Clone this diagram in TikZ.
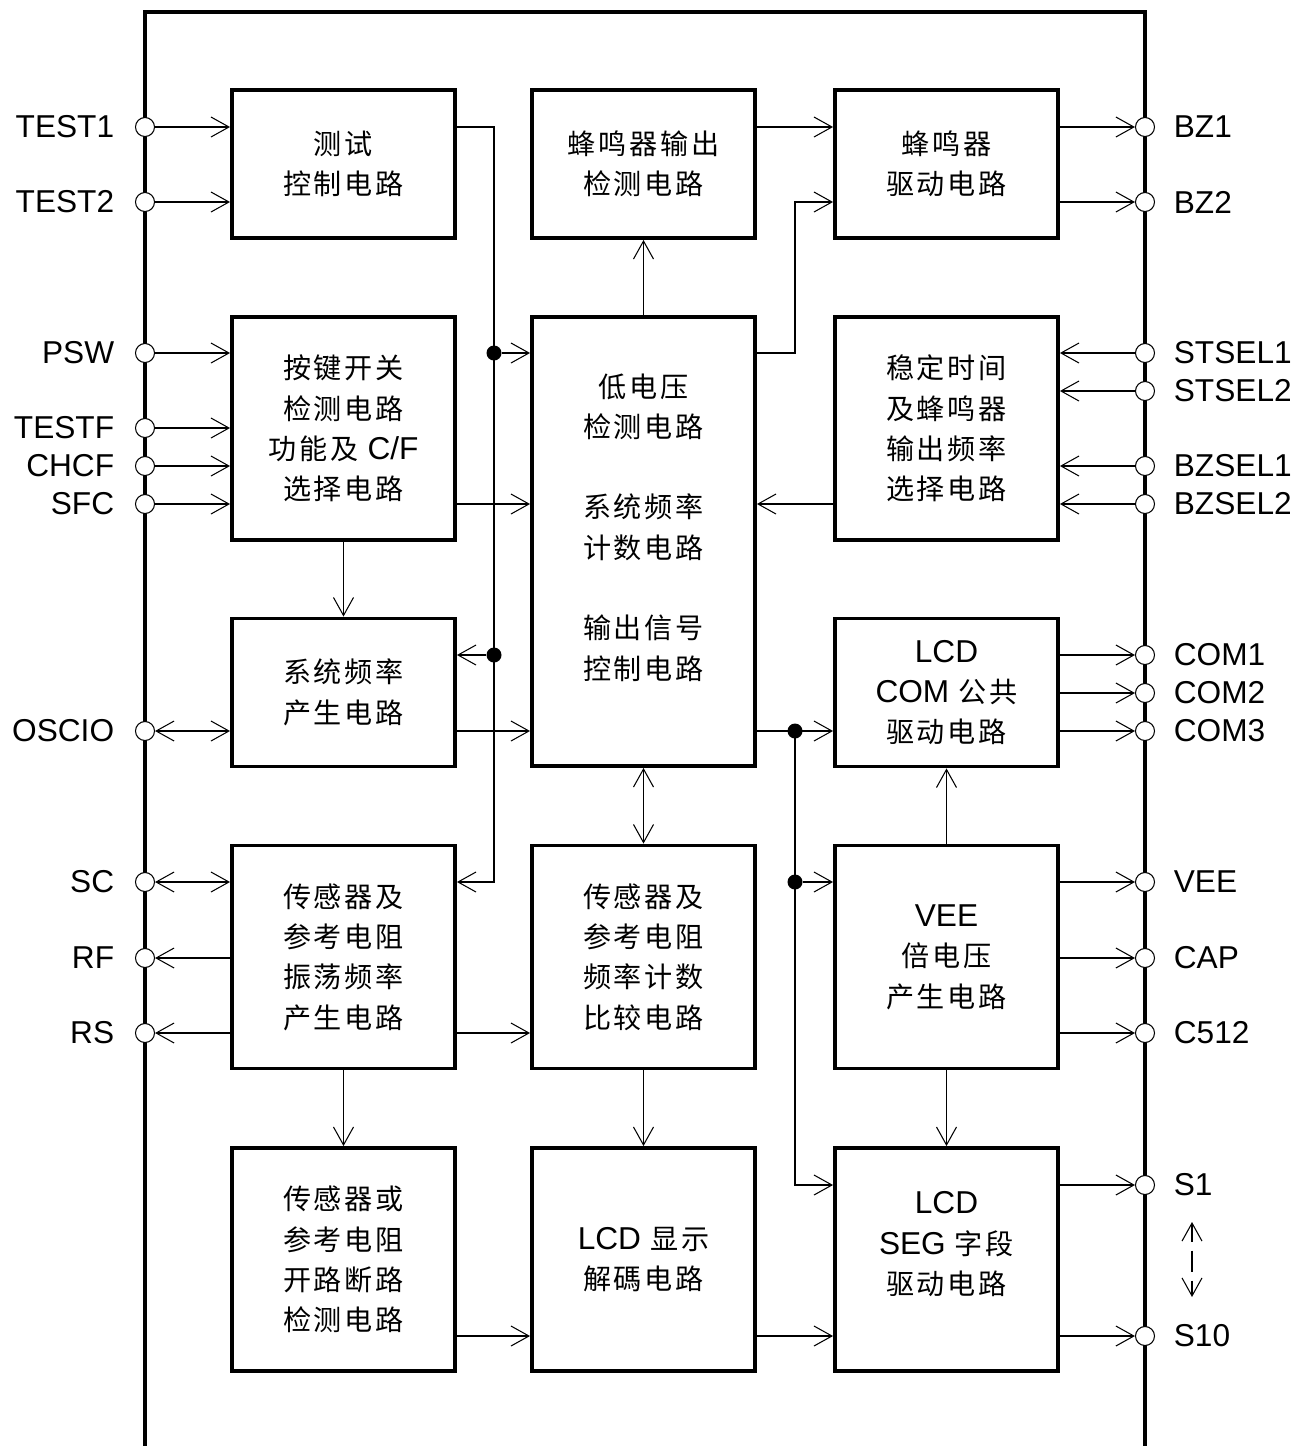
\documentclass[tikz,border=0pt]{standalone}
\usepackage{fontspec}
\setmainfont{Liberation Sans}
\newfontfamily\zhfont[LetterSpace=10]{Noto Sans CJK SC}
\usepackage{tikz}
\usetikzlibrary{arrows.meta,positioning,calc}
\newcommand\en[1]{{\rmfamily\fontsize{18}{23}\selectfont #1}}
\tikzset{
  blk/.style  ={draw, line width=2.2pt, align=center, inner sep=0pt,
                minimum width=44.6mm, font=\zhfont\fontsize{16}{23}\selectfont},
  blkS/.style ={blk, minimum height=29.6mm},
  blkM/.style ={blk, minimum height=44.6mm},
  blkL/.style ={blk, minimum height=89.8mm},
  pad/.style  ={circle, draw, fill=white, inner sep=0pt, minimum size=3.8mm,
                line width=.6pt},
  padL/.style ={pad, label={[lbl,xshift=-4.1mm]left:#1}},
  padR/.style ={pad, label={[lbl,xshift=3.7mm]right:#1}},
  lbl/.style  ={font=\fontsize{18}{22}\selectfont, inner sep=0pt},
  dot/.style  ={circle, fill, inner sep=0pt, minimum size=3mm},
  chip/.style ={line width=2.6pt},
  flow/.style ={->,>={Straight Barb[length=3.6mm,width=4mm]}, line width=.6pt},
  flowt/.style={<->,>={Straight Barb[length=3.6mm,width=4mm]}, line width=.6pt},
}
\begin{document}
\begin{tikzpicture}[x=0.2mm,y=-0.2mm]
  \useasboundingbox (0,0) rectangle (1298,1446);
  % chip outline
  \draw[chip] (145,1446) -- (145,12) -- (1145,12) -- (1145,1446);

  % blocks
  \node[blkS](test)  at (343.5,164)  {测试\\控制电路};
  \node[blkS](bzdet) at (643.5,164)  {蜂鸣器输出\\检测电路};
  \node[blkS](bzdrv) at (946.5,164)  {蜂鸣器\\驱动电路};
  \node[blkM](key)   at (343.5,428.5){按键开关\\检测电路\\功能及 \en{C/F}\\选择电路};
  \node[blkL](lvd)   at (643.5,541.5){低电压\\检测电路\\[8mm]系统频率\\计数电路\\[8mm]输出信号\\控制电路\\[-2mm]\mbox{}};
  \node[blkM](sel)   at (946.5,428.5){稳定时间\\及蜂鸣器\\输出频率\\选择电路};
  \node[blkS](osc)   at (343.5,692.5){系统频率\\产生电路};
  \node[blkS](com)   at (946.5,692.5){\en{LCD}\\\en{COM} 公共\\驱动电路};
  \node[blkM](sens)  at (343.5,957)  {传感器及\\参考电阻\\振荡频率\\产生电路};
  \node[blkM](cmp)   at (643.5,957)  {传感器及\\参考电阻\\频率计数\\比较电路};
  \node[blkM](vee)   at (946.5,957)  {\en{VEE}\\倍电压\\产生电路};
  \node[blkM](open)  at (343.5,1259.5){传感器或\\参考电阻\\开路断路\\检测电路};
  \node[blkM](dec)   at (643.5,1259.5){\en{LCD} 显示\\解碼电路};
  \node[blkM](seg)   at (946.5,1259.5){\en{LCD}\\\en{SEG} 字段\\驱动电路\\[-1.5mm]\mbox{}};

  % pins, left
  \node[padL=TEST1](pT1)  at (145,127) {};
  \node[padL=TEST2](pT2)  at (145,202) {};
  \node[padL=PSW]  (pPSW) at (145,353) {};
  \node[padL=TESTF](pTF)  at (145,428) {};
  \node[padL=CHCF] (pCH)  at (145,466) {};
  \node[padL=SFC]  (pSFC) at (145,504) {};
  \node[padL=OSCIO](pOSC) at (145,731) {};
  \node[padL=SC]   (pSC)  at (145,882) {};
  \node[padL=RF]   (pRF)  at (145,958) {};
  \node[padL=RS]   (pRS)  at (145,1033){};
  % pins, right
  \node[padR=BZ1]   (pBZ1)  at (1145,127) {};
  \node[padR=BZ2]   (pBZ2)  at (1145,202) {};
  \node[padR=STSEL1](pST1)  at (1145,353) {};
  \node[padR=STSEL2](pST2)  at (1145,391) {};
  \node[padR=BZSEL1](pBS1)  at (1145,466) {};
  \node[padR=BZSEL2](pBS2)  at (1145,504) {};
  \node[padR=COM1]  (pCOM1) at (1145,655) {};
  \node[padR=COM2]  (pCOM2) at (1145,693) {};
  \node[padR=COM3]  (pCOM3) at (1145,731) {};
  \node[padR=VEE]   (pVEE)  at (1145,882) {};
  \node[padR=CAP]   (pCAP)  at (1145,958) {};
  \node[padR=C512]  (pC512) at (1145,1033){};
  \node[padR=S1]    (pS1)   at (1145,1185){};
  \node[padR=S10]   (pS10)  at (1145,1336){};

  % buses and junctions
  \coordinate (busL) at (494,0);
  \coordinate (busR) at (795,0);
  \node[dot](j1) at (494,353) {};
  \node[dot](j2) at (494,655) {};
  \node[dot](j3) at (795,731) {};
  \node[dot](j4) at (795,882) {};

  % inputs
  \draw[flow] (pT1) -- (pT1 -| test.west);
  \draw[flow] (pT2) -- (pT2 -| test.west);
  \draw[flow] (pPSW) -- (pPSW -| key.west);
  \draw[flow] (pTF) -- (pTF -| key.west);
  \draw[flow] (pCH) -- (pCH -| key.west);
  \draw[flow] (pSFC) -- (pSFC -| key.west);
  \draw[flowt](pOSC) -- (pOSC -| osc.west);
  \draw[flowt](pSC) -- (pSC -| sens.west);
  \draw[flow] (pRF -| sens.west) -- (pRF);
  \draw[flow] (pRS -| sens.west) -- (pRS);
  \draw[flow] (pST1) -- (pST1 -| sel.east);
  \draw[flow] (pST2) -- (pST2 -| sel.east);
  \draw[flow] (pBS1) -- (pBS1 -| sel.east);
  \draw[flow] (pBS2) -- (pBS2 -| sel.east);

  % internal
  \draw[flow] (test.east |- pT1) -| (busL |- pSC) -- (sens.east |- pSC);
  \draw[flow] (j1) -- (j1 -| lvd.west);
  \draw[flow] (j2) -- (j2 -| osc.east);
  \draw[flow] (bzdet.east |- pBZ1) -- (bzdrv.west |- pBZ1);
  \draw[flow] (lvd.north) -- (bzdet.south);
  \draw[flow] (lvd.east |- pST1) -| (busR |- pBZ2) -- (bzdrv.west |- pBZ2);
  \draw[flow] (key.east |- pSFC) -- (lvd.west |- pSFC);
  \draw[flow] (sel.west |- pBS2) -- (lvd.east |- pBS2);
  \draw[flow] (key.south) -- (osc.north);
  \draw[flow] (osc.east |- pOSC) -- (lvd.west |- pOSC);
  \draw[flow] (lvd.east |- pCOM3) -- (com.west |- pCOM3);
  \draw[flow] (j3.center) |- (seg.west |- pS1);
  \draw[flow] (j4) -- (j4 -| vee.west);
  \draw[flow] (vee.north) -- (com.south);
  \draw[flow] (vee.south) -- (seg.north);
  \draw[flowt](lvd.south) -- (cmp.north);
  \draw[flow] (sens.east |- pRS) -- (cmp.west |- pRS);
  \draw[flow] (sens.south) -- (open.north);
  \draw[flow] (cmp.south) -- (dec.north);
  \draw[flow] (open.east |- pS10) -- (dec.west |- pS10);
  \draw[flow] (dec.east |- pS10) -- (seg.west |- pS10);

  % outputs
  \draw[flow] (bzdrv.east |- pBZ1) -- (pBZ1);
  \draw[flow] (bzdrv.east |- pBZ2) -- (pBZ2);
  \draw[flow] (com.east |- pCOM1) -- (pCOM1);
  \draw[flow] (com.east |- pCOM2) -- (pCOM2);
  \draw[flow] (com.east |- pCOM3) -- (pCOM3);
  \draw[flow] (vee.east |- pVEE) -- (pVEE);
  \draw[flow] (vee.east |- pCAP) -- (pCAP);
  \draw[flow] (vee.east |- pC512) -- (pC512);
  \draw[flow] (seg.east |- pS1) -- (pS1);
  \draw[flow] (seg.east |- pS10) -- (pS10);

  % S1 ... S10
  \coordinate (sa) at (1192,1222);
  \coordinate (sb) at (1192,1297);
  \draw[flowt, dash pattern=on 3.6mm off 1.8mm on 4.2mm off 1.8mm on 3.6mm] (sa) -- (sb);
\end{tikzpicture}
\end{document}
